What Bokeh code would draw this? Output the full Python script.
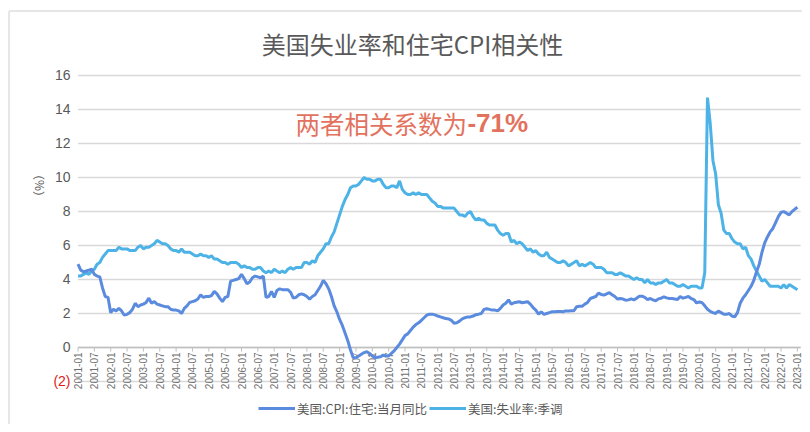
import math
from bokeh.plotting import figure
from bokeh.models import Range1d, Label, Legend, LegendItem, ColumnDataSource
from bokeh.core.properties import value
from bokeh.embed import file_html
from bokeh.resources import INLINE

# ---------------- data ----------------
years = list(range(2001, 2024))
months = [f"{y}-{m:02d}" for y in years for m in range(1, 13)][:265]

unemployment = [
    4.2, 4.2, 4.3, 4.4, 4.3, 4.5, 4.6, 4.9, 5.0, 5.3, 5.5, 5.7,   # 2001
    5.7, 5.7, 5.7, 5.9, 5.8, 5.8, 5.8, 5.7, 5.7, 5.7, 5.9, 6.0,   # 2002
    5.8, 5.9, 5.9, 6.0, 6.1, 6.3, 6.2, 6.1, 6.1, 6.0, 5.8, 5.7,   # 2003
    5.7, 5.6, 5.8, 5.6, 5.6, 5.6, 5.5, 5.4, 5.4, 5.5, 5.4, 5.4,   # 2004
    5.3, 5.4, 5.2, 5.2, 5.1, 5.0, 5.0, 4.9, 5.0, 5.0, 5.0, 4.9,   # 2005
    4.7, 4.8, 4.7, 4.7, 4.6, 4.6, 4.7, 4.7, 4.5, 4.4, 4.5, 4.4,   # 2006
    4.6, 4.5, 4.4, 4.5, 4.4, 4.6, 4.7, 4.6, 4.7, 4.7, 4.7, 5.0,   # 2007
    5.0, 4.9, 5.1, 5.0, 5.4, 5.6, 5.8, 6.1, 6.1, 6.5, 6.8, 7.3,   # 2008
    7.8, 8.3, 8.7, 9.0, 9.4, 9.5, 9.5, 9.6, 9.8, 10.0, 9.9, 9.9,  # 2009
    9.8, 9.8, 9.9, 9.9, 9.6, 9.4, 9.4, 9.5, 9.5, 9.4, 9.8, 9.3,   # 2010
    9.1, 9.0, 9.0, 9.1, 9.0, 9.1, 9.0, 9.0, 9.0, 8.8, 8.6, 8.5,   # 2011
    8.3, 8.3, 8.2, 8.2, 8.2, 8.2, 8.2, 8.0, 7.8, 7.8, 7.7, 7.9,   # 2012
    8.0, 7.7, 7.5, 7.6, 7.5, 7.5, 7.3, 7.2, 7.2, 7.2, 6.9, 6.7,   # 2013
    6.6, 6.7, 6.7, 6.2, 6.3, 6.1, 6.2, 6.1, 5.9, 5.7, 5.8, 5.6,   # 2014
    5.7, 5.5, 5.4, 5.4, 5.6, 5.3, 5.2, 5.1, 5.0, 5.0, 5.1, 5.0,   # 2015
    4.8, 4.9, 5.0, 5.1, 4.8, 4.9, 4.8, 4.9, 5.0, 4.9, 4.7, 4.7,   # 2016
    4.7, 4.6, 4.4, 4.4, 4.4, 4.3, 4.3, 4.4, 4.3, 4.2, 4.2, 4.1,   # 2017
    4.0, 4.1, 4.0, 4.0, 3.8, 4.0, 3.8, 3.8, 3.7, 3.8, 3.8, 3.9,   # 2018
    4.0, 3.8, 3.8, 3.7, 3.6, 3.6, 3.7, 3.6, 3.5, 3.6, 3.6, 3.6,   # 2019
    3.5, 3.5, 4.4, 14.7, 13.2, 11.0, 10.2, 8.4, 7.9, 6.9, 6.7, 6.7,  # 2020
    6.4, 6.2, 6.1, 6.1, 5.8, 5.9, 5.4, 5.2, 4.8, 4.5, 4.2, 3.9,   # 2021
    4.0, 3.8, 3.6, 3.6, 3.6, 3.6, 3.5, 3.7, 3.5, 3.7, 3.6, 3.5,   # 2022
    3.4,                                                          # 2023-01
]

cpi_housing = [
    4.9, 4.55, 4.45, 4.5, 4.55, 4.6, 4.3, 4.2, 4.15, 3.5, 3.0, 2.95,   # 2001
    2.05, 2.25, 2.15, 2.3, 2.15, 1.9, 1.95, 2.05, 2.25, 2.6, 2.4, 2.5,  # 2002
    2.55, 2.65, 2.9, 2.6, 2.7, 2.55, 2.5, 2.45, 2.4, 2.4, 2.25, 2.2,    # 2003
    2.2, 2.15, 2.0, 2.3, 2.45, 2.65, 2.7, 2.75, 2.85, 3.1, 2.95, 3.0,   # 2004
    3.0, 3.05, 3.3, 3.15, 2.9, 2.7, 2.95, 3.0, 3.9, 3.95, 4.0, 4.05,    # 2005
    4.3, 4.05, 3.75, 3.85, 4.1, 4.2, 4.15, 4.1, 4.2, 2.95, 3.0, 3.3,    # 2006
    2.95, 3.35, 3.45, 3.4, 3.4, 3.4, 3.25, 2.9, 2.95, 3.1, 3.15, 3.1,   # 2007
    3.0, 2.85, 3.0, 3.1, 3.35, 3.6, 3.95, 3.75, 3.45, 3.0, 2.45, 2.1,   # 2008
    1.65, 1.3, 0.85, 0.4, -0.15, -0.6, -0.6, -0.5, -0.4, -0.3, -0.25, -0.35,  # 2009
    -0.5, -0.6, -0.58, -0.55, -0.45, -0.5, -0.5, -0.35, -0.2, 0.0, 0.2, 0.45,  # 2010
    0.7, 0.8, 1.0, 1.2, 1.35, 1.45, 1.6, 1.75, 1.9, 1.96, 1.96, 1.92,   # 2011
    1.85, 1.8, 1.75, 1.7, 1.68, 1.6, 1.42, 1.45, 1.55, 1.68, 1.75, 1.8, # 2012
    1.8, 1.85, 1.93, 1.96, 2.0, 2.24, 2.28, 2.24, 2.2, 2.2, 2.16, 2.3,  # 2013
    2.5, 2.6, 2.8, 2.55, 2.63, 2.66, 2.69, 2.63, 2.66, 2.69, 2.55, 2.35,  # 2014
    2.2, 1.96, 2.1, 1.95, 2.0, 2.05, 2.1, 2.1, 2.12, 2.12, 2.1, 2.15,   # 2015
    2.15, 2.16, 2.16, 2.4, 2.43, 2.43, 2.55, 2.65, 2.88, 2.94, 3.0, 3.2,  # 2016
    3.12, 3.08, 3.15, 3.22, 3.1, 3.0, 2.85, 2.88, 2.85, 2.78, 2.8, 2.86,  # 2017
    2.8, 2.9, 3.02, 3.02, 2.95, 2.82, 2.88, 2.8, 2.75, 2.86, 2.9, 2.98,   # 2018
    2.92, 2.88, 2.88, 2.85, 2.82, 3.0, 2.9, 2.95, 3.0, 2.88, 2.82, 2.62,  # 2019
    2.68, 2.64, 2.45, 2.25, 2.12, 2.05, 2.0, 2.14, 2.05, 1.95, 1.95, 2.0, # 2020
    1.85, 1.8, 2.05, 2.6, 2.9, 3.1, 3.35, 3.6, 3.95, 4.45, 4.9, 5.6,      # 2021
    6.15, 6.5, 6.8, 7.0, 7.35, 7.7, 7.95, 7.99, 7.9, 7.8, 7.99, 8.13,     # 2022
    8.25,                                                                 # 2023-01
]

tick_positions = list(range(0, 265, 6))
tick_labels = [months[i] for i in tick_positions]
y_ticks = [0, 2, 4, 6, 8, 10, 12, 14, 16]
y_tick_labels = [str(t) for t in y_ticks]
neg_tick = -2
neg_tick_label = "(2)"
grid_ticks = [neg_tick] + y_ticks

series_names = ["美国:CPI:住宅:当月同比", "美国:失业率:季调"]
series_colors = ["#5B8BDE", "#4DB2E6"]
title_text = "美国失业率和住宅CPI相关性"
unit_text = "（%）"
note_text = "两者相关系数为"
note_value = "-71%"

CJK = "Noto Sans CJK SC"
NUM = "Liberation Sans"

# layout helpers (data units of the single full-canvas frame)
X_MIN, X_MAX = -28.44, 265.87
Y_MIN, Y_MAX = -4.53, 20.41
x_first, x_last = 0, len(months) - 1
label_x = -2.75        # right edge of the y tick labels
unit_x, unit_y = -14.5, 9.53
title_x, title_y = 122.75, 17.88
box_left, box_top = -25.3, 19.79

# ---------------- figure ----------------
x = list(range(len(months)))
src = ColumnDataSource(dict(x=x, month=months, cpi=cpi_housing, unemp=unemployment))
tick_src = ColumnDataSource(dict(x=tick_positions, y=[0] * len(tick_positions),
                                 y1=[-0.24] * len(tick_positions), label=tick_labels))
grid_src = ColumnDataSource(dict(x0=[x_first] * len(grid_ticks),
                                 x1=[x_last + 1.2] * len(grid_ticks), y=grid_ticks))
ylab_src = ColumnDataSource(dict(x=[label_x] * len(y_ticks), y=y_ticks, label=y_tick_labels))

p = figure(width=802, height=424, output_backend="svg", toolbar_location=None,
           x_range=Range1d(X_MIN, X_MAX), y_range=Range1d(Y_MIN, Y_MAX),
           min_border_left=0, min_border_right=0, min_border_top=0, min_border_bottom=0)
p.outline_line_color = None
p.xaxis.visible = False
p.yaxis.visible = False
p.xgrid.grid_line_color = None
p.ygrid.grid_line_color = None

# panel border (top and left)
p.segment(x0=[box_left, box_left], y0=[box_top, box_top], x1=[X_MAX, box_left], y1=[box_top, Y_MIN],
          line_color="#E6E6E6", line_width=2)

# title
p.add_layout(Label(x=title_x, y=title_y, text=title_text, text_align="center",
                   text_baseline="middle", text_font=CJK, text_font_size="24px",
                   text_color="#595959"))

# horizontal grid lines
p.segment(x0="x0", y0="y", x1="x1", y1="y", source=grid_src, line_color="#D9D9D9", line_width=1.5)

# x axis at y = 0
p.segment(x0=[x_first], y0=[0], x1=[x_last + 1.2], y1=[0], line_color="#BFBFBF", line_width=1.5)
p.segment(x0="x", y0="y", x1="x", y1="y1", source=tick_src, line_color="#BFBFBF", line_width=1)
p.text(x="x", y="y", text="label", source=tick_src, angle=math.pi / 2,
       text_align="right", text_baseline="middle", y_offset=5,
       text_font=value(NUM), text_font_size="10px", text_color="#707070")

# y tick labels
p.text(x="x", y="y", text="label", source=ylab_src, text_align="right", text_baseline="middle",
       text_font=value(NUM), text_font_size="14px", text_color="#595959")
p.text(x=[label_x], y=[neg_tick], text=[neg_tick_label], text_align="right", text_baseline="middle",
       text_font=value(NUM), text_font_size="14px", text_color="#E02020")
p.text(x=[unit_x], y=[unit_y], text=[unit_text], angle=math.pi / 2, text_align="center",
       text_baseline="middle", text_font=value(CJK), text_font_size="12px", text_color="#595959")

# series
r_u = p.line("x", "unemp", source=src, line_color=series_colors[1], line_width=3)
r_c = p.line("x", "cpi", source=src, line_color=series_colors[0], line_width=3)

# correlation note
p.add_layout(Label(x=79.8, y=13.2, text=note_text, text_align="left", text_baseline="middle",
                   text_font=CJK, text_font_size="24.5px", text_color="#E2725E"))
p.add_layout(Label(x=142.9, y=13.2, text=note_value, text_align="left", text_baseline="middle",
                   text_font=NUM, text_font_size="26px", text_font_style="bold",
                   text_color="#E2725E"))

legend = Legend(items=[LegendItem(label=series_names[0], renderers=[r_c]),
                       LegendItem(label=series_names[1], renderers=[r_u])],
                orientation="horizontal", location=(258, 6),
                label_text_font=CJK, label_text_font_size="12.5px", label_text_color="#595959",
                glyph_width=37, label_standoff=2, spacing=2, padding=4, margin=0,
                border_line_color=None, background_fill_alpha=0)
p.add_layout(legend, "center")

open("out.html", "w").write(file_html(p, INLINE))
